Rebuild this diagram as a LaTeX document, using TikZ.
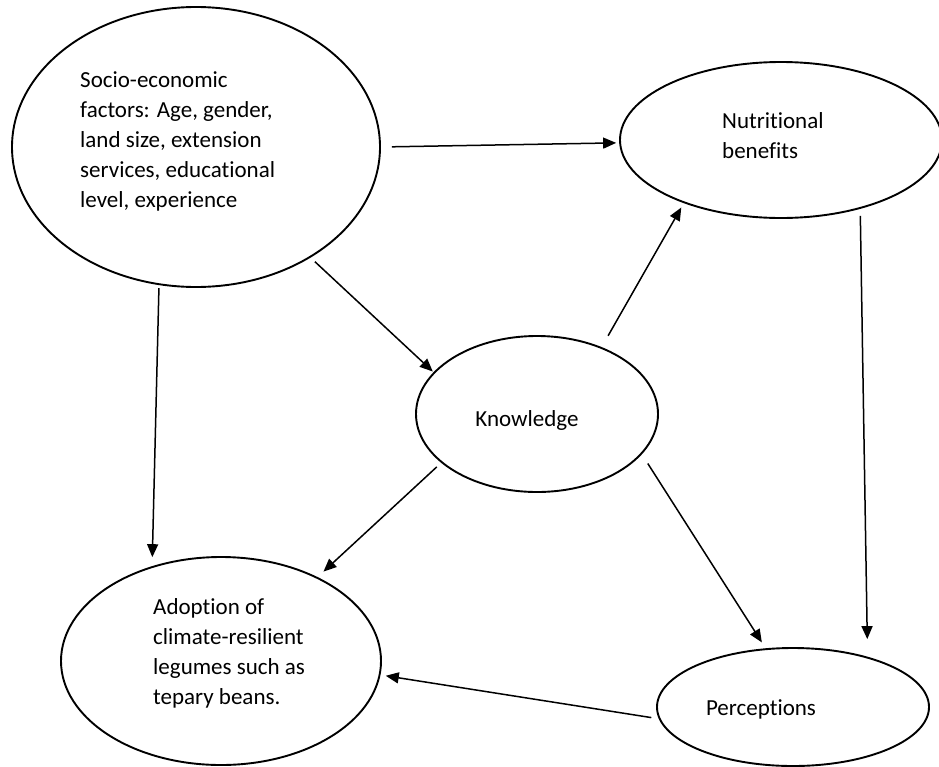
\documentclass[tikz,border=0pt]{standalone}
\usepackage{fontspec}
\setmainfont{Carlito}[Ligatures={NoCommon}]
\usetikzlibrary{shapes.geometric,arrows.meta}
\begin{document}
\begin{tikzpicture}[x=1pt,y=-1pt,
  oval/.style={draw,ellipse,line width=1.9pt,inner sep=0pt},
  lbl/.style={inner sep=0pt,align=left,font=\fontsize{23}{30}\selectfont},
  conn/.style={line width=1.5pt,-{Triangle[length=13pt,width=11pt]}}]
\useasboundingbox (0,0) rectangle (939,766);
% ovals
\node[oval,minimum width=368pt,minimum height=280pt] (S) at (196,147) {};
\node[oval,minimum width=322pt,minimum height=156pt] (N) at (781,140) {};
\node[oval,minimum width=242pt,minimum height=156pt] (K) at (537,414) {};
\node[oval,minimum width=320pt,minimum height=208pt] (A) at (221,661) {};
\node[oval,minimum width=272pt,minimum height=118pt] (P) at (793,707) {};
% texts
\node[lbl,anchor=west] (St) at (80,141.5) {Socio-economic\\factors: Age, gender,\\land size, extension\\services, educational\\level, experience};
\node[lbl,anchor=west] (Nt) at (722,135.5) {Nutritional\\benefits};
\node[lbl,anchor=base] (Kt) at (527,426) {Knowledge};
\node[lbl,anchor=west] (At) at (153,653.5) {Adoption of\\climate-resilient\\legumes such as\\tepary beans.};
\node[lbl,anchor=base] (Pt) at (761,715) {Perceptions};
% connectors
\draw[conn,shorten <=11pt,shorten >=3pt] (S.0) -- (N.181);
\draw[conn,shorten <=3pt,shorten >=9pt] (S.255) -- (A.126);
\draw[conn,shorten <=6pt,shorten >=1pt] (S.316) -- (K.158);
\draw[conn,shorten <=13pt,shorten >=5pt] (K.46) -- (N.213);
\draw[conn,shorten <=6pt,shorten >=8pt] (K.207) -- (A.41);
\draw[conn,shorten <=11pt,shorten >=7pt] (K.339) -- (P.115);
\draw[conn,shorten <=7pt,shorten >=17.6pt] (N.319) -- (P.34);
\draw[conn,shorten <=7.5pt,shorten >=5.3pt] (P.185) -- (A.355);
\end{tikzpicture}
\end{document}
